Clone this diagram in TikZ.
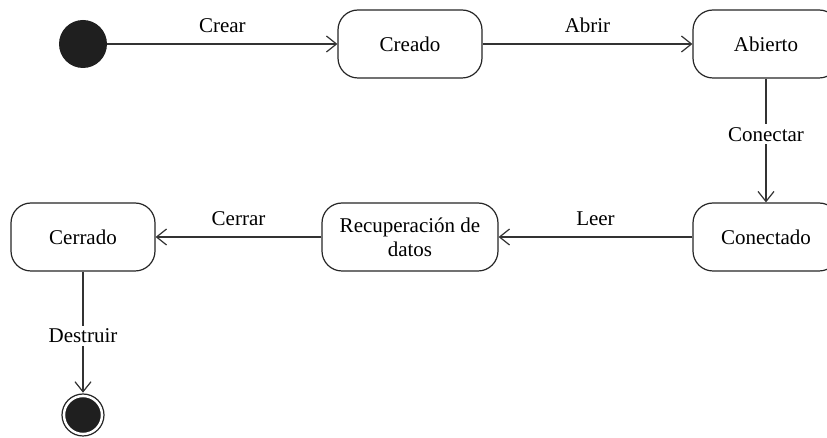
\documentclass[tikz,border=0pt]{standalone}
\usepackage{fontspec}
\setmainfont{Liberation Serif}
\usetikzlibrary{positioning,arrows.meta}
\tikzset{
  st/.style  ={rectangle, rounded corners=10pt, draw=black!85, line width=0.6pt, fill=white, minimum width=72pt, minimum height=34pt, inner sep=2pt, align=center, font=\fontsize{10.5}{12}\selectfont},
  ini/.style ={circle, fill=black!88, minimum size=24pt, inner sep=0pt},
  fin/.style ={circle, fill=black!88, draw=white, line width=1.3pt, double=black!85, double distance=0.6pt, minimum size=21pt, inner sep=0pt},
  e/.style   ={-{Straight Barb[length=5pt, width=8pt]}, draw=black!80, line width=0.6pt},
  el/.style  ={font=\fontsize{10.5}{12}\selectfont, inner sep=1.5pt, fill=white},
}

\begin{document}
\begin{tikzpicture}[x=0.5pt, y=-0.5pt]
\useasboundingbox (0,0) rectangle (827,438);
%% ---------- top row ----------
\node[ini] (start) at (83, 44) {};
\node[st]  (cre)   at (410, 44) {Creado};
\node[st, minimum width=73pt] (abi) at (766, 44) {Abierto};
\draw[e] (start) -- (cre) node[el, above=4pt, midway] {Crear};
\draw[e] (cre) -- (abi) node[el, above=4pt, midway] {Abrir};
%% ---------- bottom row ----------
\node[st, minimum width=73pt] (con) at (766, 237) {Conectado};
\node[st, minimum width=88pt] (rec) at (410, 237) {Recuperación de\\datos};
\node[st]  (cer)   at (83, 237) {Cerrado};
\node[fin] (stop)  at (83, 415) {};
\draw[e] (abi) -- (con) node[el, pos=.45] {Conectar};
\draw[e] (con) -- (rec) node[el, above=4pt, midway] {Leer};
\draw[e] (rec) -- (cer) node[el, above=4pt, midway] {Cerrar};
\draw[e] (cer) -- (stop) node[el, pos=.53] {Destruir};
\end{tikzpicture}
\end{document}
